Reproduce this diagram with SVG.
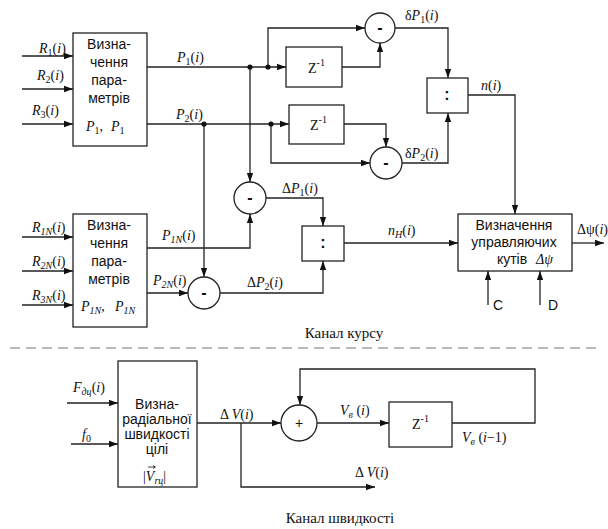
<svg xmlns="http://www.w3.org/2000/svg" width="608" height="529" viewBox="0 0 608 529">
<defs>
<marker id="a" viewBox="0 0 10 10" refX="10" refY="5" markerWidth="9" markerHeight="9" markerUnits="userSpaceOnUse" orient="auto"><path d="M0,1.5 L10,5 L0,8.5z" fill="#111"/></marker>
<style>
.b{fill:#fff;stroke:#222;stroke-width:1.3}
.c{fill:none;stroke:#222;stroke-width:1.3}
.ar{marker-end:url(#a)}
.bt{font-family:"Liberation Sans",Arial,sans-serif;font-size:14px;fill:#111;text-anchor:middle}
.m{font-family:"Liberation Serif","Times New Roman",serif;font-size:14px;fill:#111}
.i{font-style:italic}
.s{font-size:10px}
.cap{font-family:"Liberation Serif","Times New Roman",serif;font-size:15px;fill:#111;text-anchor:middle}
.op{font-family:"Liberation Sans",Arial,sans-serif;font-size:16px;font-weight:bold;fill:#111;text-anchor:middle}
</style>
</defs>
<rect width="608" height="529" fill="#fff"/>

<g id="connectors">
<path class="c ar" d="M22,56 H73"/>
<path class="c ar" d="M22,89 H73"/>
<path class="c ar" d="M22,124 H73"/>
<path class="c ar" d="M147,67 H286"/>
<path class="c ar" d="M268,67 V28 H365"/>
<path class="c ar" d="M342,67 H380 V43"/>
<path class="c ar" d="M395,28 H448 V78"/>
<path class="c ar" d="M147,124 H289"/>
<path class="c ar" d="M271,124 V163 H370"/>
<path class="c ar" d="M344,124 H386 V147"/>
<path class="c ar" d="M402,163 H448 V113"/>
<path class="c ar" d="M468,95 H515 V214"/>
<path class="c ar" d="M250,67 V182"/>
<path class="c ar" d="M204,124 V277"/>
<path class="c ar" d="M22,237 H73"/>
<path class="c ar" d="M22,271 H73"/>
<path class="c ar" d="M22,305 H73"/>
<path class="c ar" d="M147,248 H250 V214"/>
<path class="c ar" d="M147,293 H188"/>
<path class="c ar" d="M266,198 H323 V226"/>
<path class="c ar" d="M220,293 H323 V261"/>
<path class="c ar" d="M344,243 H458"/>
<path class="c ar" d="M572,243 H604"/>
<path class="c ar" d="M488,305 V271"/>
<path class="c ar" d="M540,305 V271"/>
<path class="c ar" d="M67,403 H118"/>
<path class="c ar" d="M71,444 H118"/>
<path class="c ar" d="M197,423 H281"/>
<path class="c ar" d="M241,423 V487 H375"/>
<path class="c ar" d="M317,423 H389"/>
<path class="c ar" d="M452,423 H535 V369 H300 V405"/>
<g fill="#111">
<circle cx="250" cy="67" r="2.6"/>
<circle cx="268" cy="67" r="2.6"/>
<circle cx="204" cy="124" r="2.6"/>
<circle cx="271" cy="124" r="2.6"/>
</g>
</g>

<path d="M10,348 H600" fill="none" stroke="#777" stroke-width="1.2" stroke-dasharray="10,6"/>

<g id="block1">
<rect class="b" x="73" y="33" width="74" height="113"/>
<text class="bt" x="109" y="49">Визна-</text>
<text class="bt" x="109" y="67">чення</text>
<text class="bt" x="109" y="85">пара-</text>
<text class="bt" x="109" y="103">метрів</text>
<text class="m" x="86" y="131" font-size="17"><tspan class="i">P</tspan><tspan class="s" dy="3">1</tspan><tspan dy="-3">,</tspan></text>
<text class="m" x="111" y="131" font-size="17"><tspan class="i">P</tspan><tspan class="s" dy="3">1</tspan></text>
</g>

<g id="block2">
<rect class="b" x="73" y="214" width="74" height="113"/>
<text class="bt" x="109" y="230">Визна-</text>
<text class="bt" x="109" y="248">чення</text>
<text class="bt" x="109" y="266">пара-</text>
<text class="bt" x="109" y="284">метрів</text>
<text class="m" x="81" y="311" font-size="17"><tspan class="i">P</tspan><tspan class="s i" dy="3">1N</tspan><tspan dy="-3">,</tspan></text>
<text class="m" x="115" y="311" font-size="17"><tspan class="i">P</tspan><tspan class="s i" dy="3">1N</tspan></text>
</g>

<g id="z1"><rect class="b" x="286" y="47" width="56" height="40"/><text class="m" x="308" y="73" font-size="16">Z<tspan class="s" dy="-7">-1</tspan></text></g>
<g id="z2"><rect class="b" x="289" y="105" width="55" height="39"/><text class="m" x="310" y="130" font-size="16">Z<tspan class="s" dy="-7">-1</tspan></text></g>
<g id="sub1"><circle class="b" cx="380" cy="28" r="15"/><text class="op" x="380" y="33">-</text></g>
<g id="sub2"><circle class="b" cx="386" cy="163" r="16"/><text class="op" x="386" y="168">-</text></g>
<g id="sub3"><circle class="b" cx="250" cy="198" r="16"/><text class="op" x="250" y="203">-</text></g>
<g id="sub4"><circle class="b" cx="204" cy="293" r="16"/><text class="op" x="204" y="298">-</text></g>
<g id="div1"><rect class="b" x="427" y="78" width="41" height="35"/><text class="op" x="447" y="100">:</text></g>
<g id="div2"><rect class="b" x="302" y="226" width="42" height="35"/><text class="op" x="323" y="248">:</text></g>

<g id="block3">
<rect class="b" x="458" y="214" width="114" height="57"/>
<text class="bt" x="514" y="230">Визначення</text>
<text class="bt" x="514" y="247">управляючих</text>
<text class="bt" x="512" y="264">кутів</text>
<text class="m i" x="536" y="264" font-size="15">Δψ</text>
</g>

<g id="block4">
<rect class="b" x="118" y="361" width="79" height="126"/>
<text class="bt" x="157" y="409">Визна-</text>
<text class="bt" x="157" y="424">радіальної</text>
<text class="bt" x="157" y="439">швидкості</text>
<text class="bt" x="157" y="454">цілі</text>
<text class="m" x="143" y="481" font-size="15">|<tspan class="i">V</tspan><tspan class="s i" dy="3">rц</tspan><tspan dy="-3">|</tspan></text>
<path d="M148,467 H155 M153,465.5 L155.5,467 L153,468.5" fill="none" stroke="#111" stroke-width="0.8"/>
</g>

<g id="sum"><circle class="b" cx="299" cy="423" r="18"/><text class="bt" x="299" y="428" font-size="14">+</text></g>
<g id="z3"><rect class="b" x="389" y="402" width="63" height="45"/><text class="m" x="412" y="429" font-size="16">Z<tspan class="s" dy="-7">-1</tspan></text></g>

<g id="labels" class="m">
<text x="39" y="53"><tspan class="i">R</tspan><tspan class="s" dy="3">1</tspan><tspan dy="-3">(</tspan><tspan class="i">i</tspan>)</text>
<text x="37" y="80"><tspan class="i">R</tspan><tspan class="s" dy="3">2</tspan><tspan dy="-3">(</tspan><tspan class="i">i</tspan>)</text>
<text x="32" y="115"><tspan class="i">R</tspan><tspan class="s" dy="3">3</tspan><tspan dy="-3">(</tspan><tspan class="i">i</tspan>)</text>
<text x="177" y="62"><tspan class="i">P</tspan><tspan class="s" dy="3">1</tspan><tspan dy="-3">(</tspan><tspan class="i">i</tspan>)</text>
<text x="176" y="119"><tspan class="i">P</tspan><tspan class="s" dy="3">2</tspan><tspan dy="-3">(</tspan><tspan class="i">i</tspan>)</text>
<text x="405" y="20">δ<tspan class="i">P</tspan><tspan class="s" dy="3">1</tspan><tspan dy="-3">(</tspan><tspan class="i">i</tspan>)</text>
<text x="405" y="158">δ<tspan class="i">P</tspan><tspan class="s" dy="3">2</tspan><tspan dy="-3">(</tspan><tspan class="i">i</tspan>)</text>
<text x="481" y="90"><tspan class="i">n</tspan>(<tspan class="i">i</tspan>)</text>
<text x="282" y="193">Δ<tspan class="i">P</tspan><tspan class="s" dy="3">1</tspan><tspan dy="-3">(</tspan><tspan class="i">i</tspan>)</text>
<text x="247" y="287">Δ<tspan class="i">P</tspan><tspan class="s" dy="3">2</tspan><tspan dy="-3">(</tspan><tspan class="i">i</tspan>)</text>
<text x="388" y="235"><tspan class="i">n</tspan><tspan class="s i" dy="3">H</tspan><tspan dy="-3">(</tspan><tspan class="i">i</tspan>)</text>
<text x="577" y="234">Δψ(<tspan class="i">i</tspan>)</text>
<text x="32" y="232"><tspan class="i">R</tspan><tspan class="s i" dy="3">1N</tspan><tspan dy="-3">(</tspan><tspan class="i">i</tspan>)</text>
<text x="32" y="266"><tspan class="i">R</tspan><tspan class="s i" dy="3">2N</tspan><tspan dy="-3">(</tspan><tspan class="i">i</tspan>)</text>
<text x="32" y="300"><tspan class="i">R</tspan><tspan class="s i" dy="3">3N</tspan><tspan dy="-3">(</tspan><tspan class="i">i</tspan>)</text>
<text x="162" y="240"><tspan class="i">P</tspan><tspan class="s i" dy="3">1N</tspan><tspan dy="-3">(</tspan><tspan class="i">i</tspan>)</text>
<text x="153" y="285"><tspan class="i">P</tspan><tspan class="s i" dy="3">2N</tspan><tspan dy="-3">(</tspan><tspan class="i">i</tspan>)</text>
<text x="73" y="392"><tspan class="i">F</tspan><tspan class="s i" dy="3">дц</tspan><tspan dy="-3">(</tspan><tspan class="i">i</tspan>)</text>
<text x="82" y="439"><tspan class="i">f</tspan><tspan class="s" dy="3">0</tspan></text>
<text x="220" y="419">Δ <tspan class="i">V</tspan>(<tspan class="i">i</tspan>)</text>
<text x="340" y="415"><tspan class="i">V</tspan><tspan class="s i" dy="3">в</tspan><tspan dy="-3"> (</tspan><tspan class="i">i</tspan>)</text>
<text x="462" y="442"><tspan class="i">V</tspan><tspan class="s i" dy="3">в</tspan><tspan dy="-3"> (</tspan><tspan class="i">i</tspan>−1)</text>
<text x="355" y="477">Δ <tspan class="i">V</tspan>(<tspan class="i">i</tspan>)</text>
</g>
<text class="bt" x="493" y="310" style="text-anchor:start">C</text>
<text class="bt" x="548" y="310" style="text-anchor:start">D</text>
<text class="cap" x="344" y="338">Канал курсу</text>
<text class="cap" x="340" y="523">Канал швидкості</text>
</svg>
